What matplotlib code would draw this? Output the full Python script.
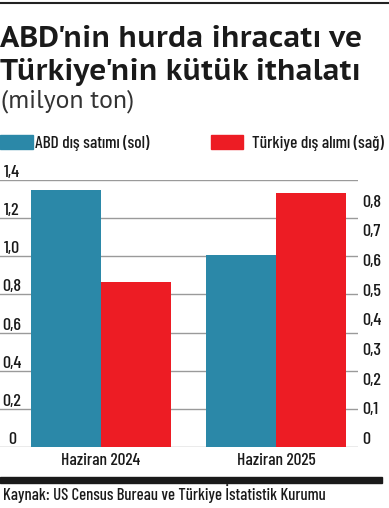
import matplotlib
matplotlib.use("Agg")
import matplotlib.pyplot as plt
from matplotlib.patches import Rectangle
from matplotlib.lines import Line2D

# data
categories = ["Haziran 2024", "Haziran 2025"]
abd_export = [1.345, 1.005]      # left axis, milyon ton
turkiye_import = [0.555, 0.855]  # right axis, milyon ton
left_ticks = [0, 0.2, 0.4, 0.6, 0.8, 1.0, 1.2, 1.4]
left_labels = ["0", "0,2", "0,4", "0,6", "0,8", "1,0", "1,2", "1,4"]
right_ticks = [0, 0.1, 0.2, 0.3, 0.4, 0.5, 0.6, 0.7, 0.8]
right_labels = ["0", "0,1", "0,2", "0,3", "0,4", "0,5", "0,6", "0,7", "0,8"]

BLUE = "#2b88a8"
RED = "#ed1c24"
GRID = "#9a9a9a"
INK = "#1a1a1a"
NARROW = ["Barlow Condensed", "Roboto Condensed", "DejaVu Sans"]
TITLE = ["PT Sans Caption", "PT Sans", "DejaVu Sans"]
SUB = ["PT Sans", "DejaVu Sans"]

W, H = 389, 508
fig = plt.figure(figsize=(W / 100, H / 100), dpi=100)

def fy(px):
    return 1 - px / H

# axes: gridlines span x 0..358 px, 0 at y=447, 1.4 at y=180
ax = fig.add_axes([0, fy(447), 358 / W, (447 - 180) / H])
ax2 = ax.twinx()

x = [0, 1]
bw = 0.4
ax.bar([i - bw / 2 for i in x], abd_export, width=bw, color=BLUE, zorder=3)
ax2.bar([i + bw / 2 for i in x], turkiye_import, width=bw, color=RED, zorder=3)

ax.set_xlim(-0.577, 1.469)
ax.set_ylim(0, 1.4)
ax2.set_ylim(0, 0.9)

ax.set_yticks(left_ticks)
ax.set_yticklabels(left_labels, fontfamily=NARROW, fontweight=500, fontsize=13,
                   color=INK, ha="center", va="bottom")
ax.tick_params(axis="y", length=0, pad=-12 * 0.72)
ax.yaxis.grid(True, color=GRID, linewidth=1)
ax.set_axisbelow(True)

ax2.set_yticks(right_ticks)
ax2.set_yticklabels(right_labels, fontfamily=NARROW, fontweight=500, fontsize=13,
                    color=INK, ha="left", va="bottom")
ax2.tick_params(axis="y", length=0, pad=3)

ax.set_xticks(x)
ax.set_xticklabels(categories, fontfamily=NARROW, fontweight=500, fontsize=12.5, color=INK)
ax.tick_params(axis="x", length=0, pad=4)

for a in (ax, ax2):
    for s in a.spines.values():
        s.set_visible(False)
ax.patch.set_alpha(0)
ax2.patch.set_alpha(0)

# title block
fig.add_artist(Line2D([0, 1], [fy(3), fy(3)], color="#222222", linewidth=1.5))
fig.text(0.0, fy(46.5), "ABD'nin hurda ihracatı ve", fontsize=21.2, fontweight="bold",
         fontfamily=TITLE, color=INK, va="baseline")
fig.text(0.0, fy(80), "Türkiye'nin kütük ithalatı", fontsize=21.2, fontweight="bold",
         fontfamily=TITLE, color=INK, va="baseline")
fig.text(0.003, fy(107), "(milyon ton)", fontsize=18.5,
         fontfamily=SUB, color="#333333", va="baseline")

# legend
fig.add_artist(Rectangle((0, fy(149)), 33 / W, 14 / H, color=BLUE, transform=fig.transFigure))
fig.text(35 / W, fy(148), "ABD dış satımı (sol)", fontsize=12.5, fontfamily=NARROW,
         fontweight=500, color=INK, va="baseline")
fig.add_artist(Rectangle((211 / W, fy(149)), 32 / W, 14 / H, color=RED, transform=fig.transFigure))
fig.text(252 / W, fy(148), "Türkiye dış alımı (sağ)", fontsize=12.5, fontfamily=NARROW,
         fontweight=500, color=INK, va="baseline")

# footer
fig.add_artist(Rectangle((0, fy(483)), 382 / W, 6 / H, color=INK, transform=fig.transFigure))
fig.text(0.008, fy(500), "Kaynak: US Census Bureau ve Türkiye İstatistik Kurumu", fontsize=12,
         fontfamily=NARROW, fontweight=500, color=INK, va="baseline")

fig.savefig("out.png", dpi=100, facecolor="white")
